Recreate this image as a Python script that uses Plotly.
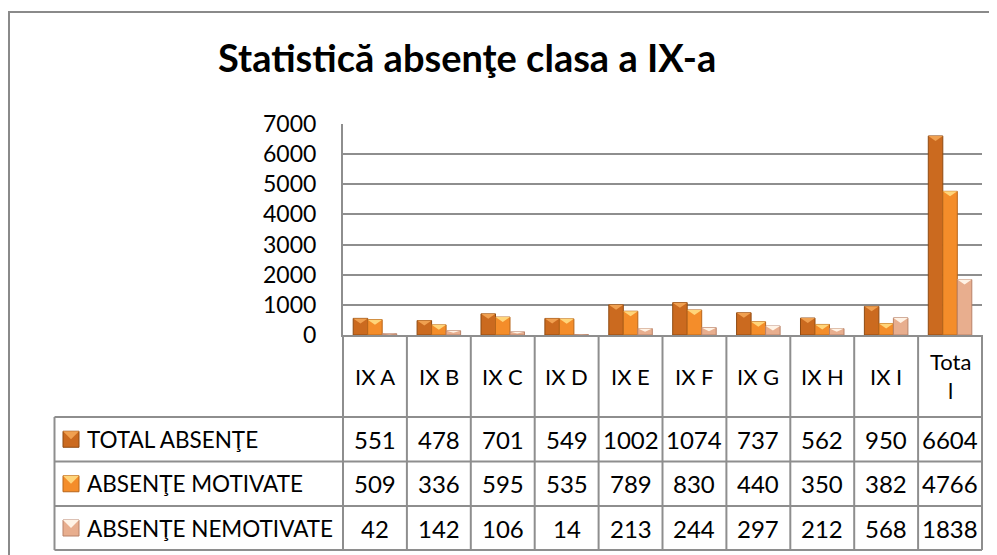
import plotly.graph_objects as go

# ---------------- data ----------------
categories = ["IX A", "IX B", "IX C", "IX D", "IX E", "IX F", "IX G", "IX H", "IX I", "Total"]
header_labels = ["IX A", "IX B", "IX C", "IX D", "IX E", "IX F", "IX G", "IX H", "IX I", "Tota<br>l"]
series_names = ["TOTAL ABSENŢE", "ABSENŢE MOTIVATE", "ABSENŢE NEMOTIVATE"]
total_absente = [551, 478, 701, 549, 1002, 1074, 737, 562, 950, 6604]
absente_motivate = [509, 336, 595, 535, 789, 830, 440, 350, 382, 4766]
absente_nemotivate = [42, 142, 106, 14, 213, 244, 297, 212, 568, 1838]
y_ticks = [0, 1000, 2000, 3000, 4000, 5000, 6000, 7000]
title_text = "Statistică absenţe clasa a IX-a"

series_values = [total_absente, absente_motivate, absente_nemotivate]

# ---------------- style ----------------
OFF = 8                      # page body margin of the html page
W, H = 997 - OFF, 555 - OFF
PLOT_L, PLOT_R, PLOT_T, PLOT_B = 343, 982, 124, 335   # in screen pixels
FONT = "Lato"
GRID = "#8e8e8e"
fills = ["#CB6A1F", "#F48D2A", "#E8AE8E"]
edges = ["#8F4A12", "#B8661A", "#B98268"]
tops = ["#F0A050", "#FFD57A", "#FFF3E6"]
BW = 0.227            # bar width in category units
YMAX = 7000

def pxx(p):
    return (p - PLOT_L) / (PLOT_R - PLOT_L)

def pxy(p):
    return (PLOT_B - p) / (PLOT_B - PLOT_T)

units_per_px = YMAX / (PLOT_B - PLOT_T)
TRI_H = 5 * units_per_px

fig = go.Figure()
shapes = []
annotations = []

n = len(categories)
for k, (name, vals) in enumerate(zip(series_names, series_values)):
    xs = [i + (k - 1) * BW for i in range(n)]
    fig.add_trace(go.Bar(
        x=xs, y=vals, width=BW, name=name,
        marker=dict(color=fills[k], line=dict(color=edges[k], width=1)),
        showlegend=False, hoverinfo="y+name",
    ))
    for x, v in zip(xs, vals):
        h = min(TRI_H, v / 2)
        x0, x1 = x - BW / 2, x + BW / 2
        shapes.append(dict(
            type="path", xref="x", yref="y", layer="above",
            path=f"M {x0},{v} L {x1},{v} L {x},{v - h} Z",
            fillcolor=tops[k], line=dict(width=0),
        ))

# ---------------- outer border ----------------
shapes.append(dict(type="rect", xref="paper", yref="paper",
                   x0=pxx(9), x1=pxx(1020), y0=pxy(12), y1=pxy(580),
                   line=dict(color="#8a8a8a", width=2), layer="below"))

# ---------------- data table ----------------
ROW_LINES = [417, 461.5, 506, 550]
LEG_L = 54.5
line_style = dict(color=GRID, width=2)
for i in range(n + 1):
    shapes.append(dict(type="line", xref="paper", yref="paper",
                       x0=i / n, x1=i / n, y0=pxy(PLOT_B), y1=pxy(ROW_LINES[-1]),
                       line=line_style))
shapes.append(dict(type="line", xref="paper", yref="paper",
                   x0=pxx(LEG_L), x1=pxx(LEG_L), y0=pxy(ROW_LINES[0]), y1=pxy(ROW_LINES[-1]),
                   line=line_style))
for ry in ROW_LINES:
    shapes.append(dict(type="line", xref="paper", yref="paper",
                       x0=pxx(LEG_L), x1=1, y0=pxy(ry), y1=pxy(ry), line=line_style))

# header labels
for i, lab in enumerate(header_labels):
    annotations.append(dict(xref="paper", yref="paper", x=(i + 0.5) / n, y=pxy(376),
                            text=lab, showarrow=False, xanchor="center", yanchor="middle",
                            font=dict(family=FONT, size=22, color="black")))

# rows
for k, (name, vals) in enumerate(zip(series_names, series_values)):
    cy = (ROW_LINES[k] + ROW_LINES[k + 1]) / 2
    # legend key
    shapes.append(dict(type="rect", xref="paper", yref="paper",
                       x0=pxx(63), x1=pxx(79), y0=pxy(cy - 8), y1=pxy(cy + 8),
                       fillcolor=fills[k], line=dict(color=edges[k], width=1)))
    shapes.append(dict(type="path", xref="paper", yref="paper",
                       path=f"M {pxx(63)},{pxy(cy - 8)} L {pxx(79)},{pxy(cy - 8)} L {pxx(71)},{pxy(cy)} Z",
                       fillcolor=tops[k], line=dict(width=0)))
    annotations.append(dict(xref="paper", yref="paper", x=pxx(85), y=pxy(cy),
                            text=name, showarrow=False, xanchor="left", yanchor="middle",
                            font=dict(family=FONT, size=22.5, color="black")))
    for i, v in enumerate(vals):
        annotations.append(dict(xref="paper", yref="paper", x=(i + 0.5) / n, y=pxy(cy),
                                text=str(v), showarrow=False, xanchor="center", yanchor="middle",
                                font=dict(family=FONT, size=24, color="black")))

# title
annotations.append(dict(xref="paper", yref="paper", x=pxx(467), y=pxy(57),
                        text=f"<b>{title_text}</b>", showarrow=False,
                        xanchor="center", yanchor="middle",
                        font=dict(family=FONT, size=38, color="black")))

fig.update_layout(
    width=W, height=H,
    margin=dict(l=PLOT_L - OFF, r=997 - PLOT_R, t=PLOT_T - OFF, b=555 - PLOT_B,
                autoexpand=False),
    paper_bgcolor="white", plot_bgcolor="white",
    barmode="overlay",
    shapes=shapes, annotations=annotations,
    xaxis=dict(range=[-0.5, n - 0.5], showticklabels=False, showgrid=False,
               zeroline=False, showline=True, linecolor=GRID, linewidth=2, fixedrange=True),
    yaxis=dict(range=[0, YMAX], tickvals=y_ticks, showgrid=True, gridcolor=GRID, gridwidth=1.5,
               zeroline=False, showline=True, linecolor=GRID, linewidth=2,
               ticks="", ticklabelstandoff=20, automargin=False,
               tickfont=dict(family=FONT, size=23, color="black")),
    showlegend=False,
)

fig.write_html("out.html")
